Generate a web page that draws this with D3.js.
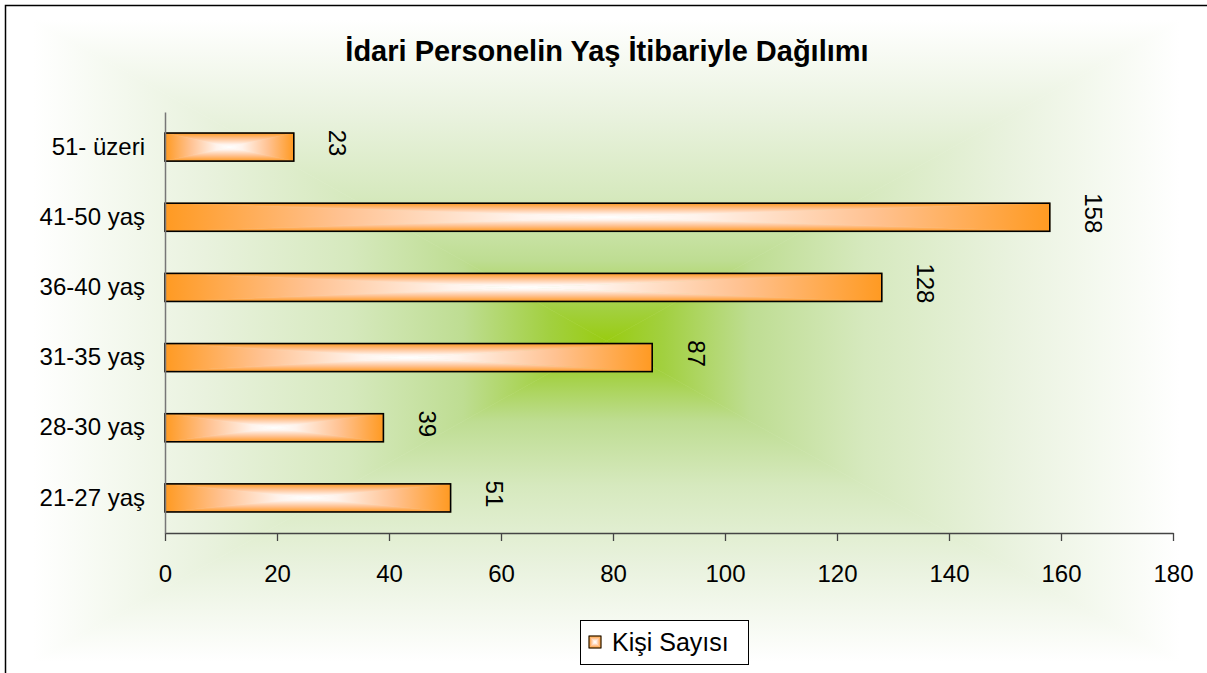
<!DOCTYPE html>
<html>
<head>
<meta charset="utf-8">
<script src="https://cdn.jsdelivr.net/npm/d3@7"></script>
<style>
  body { margin: 0; background: #fff; }
  text { font-family: "Liberation Sans", Arial, sans-serif; }
</style>
</head>
<body>
<div id="chart"></div>
<script>
// data
var categories = ["51- üzeri", "41-50 yaş", "36-40 yaş", "31-35 yaş", "28-30 yaş", "21-27 yaş"];
var values = [23, 158, 128, 87, 39, 51];
var xTicks = [0, 20, 40, 60, 80, 100, 120, 140, 160, 180];
var title = "İdari Personelin Yaş İtibariyle Dağılımı";
var seriesName = "Kişi Sayısı";

var W = 1207, H = 673;
var svg = d3.select("#chart").append("svg")
    .attr("width", W).attr("height", H);
var defs = svg.append("defs");
var gradId = 0;

// Excel-like "from center" rectangular gradient, made of 4 triangles
function fromCenter(g, x0, y0, x1, y1, stops) {
    var cx = (x0 + x1) / 2, cy = (y0 + y1) / 2;
    var parts = [
        {pts: [[x0, y0], [x1, y0], [cx, cy]], to: [cx, y0]},
        {pts: [[x0, y1], [x1, y1], [cx, cy]], to: [cx, y1]},
        {pts: [[x0, y0], [x0, y1], [cx, cy]], to: [x0, cy]},
        {pts: [[x1, y0], [x1, y1], [cx, cy]], to: [x1, cy]}
    ];
    parts.forEach(function(p) {
        var id = "g" + (gradId++);
        var lg = defs.append("linearGradient").attr("id", id)
            .attr("gradientUnits", "userSpaceOnUse")
            .attr("x1", cx).attr("y1", cy).attr("x2", p.to[0]).attr("y2", p.to[1]);
        stops.forEach(function(s) {
            lg.append("stop").attr("offset", s[0]).attr("stop-color", s[1]);
        });
        g.append("polygon")
            .attr("points", p.pts.map(function(d) { return d.join(","); }).join(" "))
            .attr("fill", "url(#" + id + ")")
            .attr("stroke", "url(#" + id + ")")
            .attr("stroke-width", 0.6);
    });
}

var bgStops = [[0, "#99cc11"], [0.1, "#a2d040"], [0.25, "#bedd92"], [0.45, "#d6e9be"], [0.7, "#e9f2de"], [1, "#ffffff"]];
var barStops = [[0, "#ffffff"], [0.2, "#fff3ec"], [0.6, "#ffc292"], [1, "#ff9a22"]];

// background
fromCenter(svg.append("g"), 33, 20, 1180, 662, bgStops);

// chart border
svg.append("rect")
    .attr("x", 5.5).attr("y", 5.5)
    .attr("width", 1210).attr("height", 700)
    .attr("fill", "none").attr("stroke", "#000").attr("stroke-width", 1.5);

var x = d3.scaleLinear().domain([0, 180]).range([165, 1173]);
var y = d3.scaleBand().domain(categories).range([112, 533])
    .paddingInner(0.6).paddingOuter(0.3);

// title
svg.append("text")
    .attr("x", 607).attr("y", 61)
    .attr("text-anchor", "middle")
    .style("font-size", "29px").style("font-weight", "bold")
    .text(title);

// bars
categories.forEach(function(c, i) {
    var g = svg.append("g");
    var x0 = x(0), x1 = x(values[i]), y0 = y(c), y1 = y(c) + y.bandwidth();
    fromCenter(g, x0, y0, x1, y1, barStops);
    g.append("rect")
        .attr("x", x0).attr("y", y0)
        .attr("width", x1 - x0).attr("height", y1 - y0)
        .attr("fill", "none").attr("stroke", "#000").attr("stroke-width", 1.6);
});

// value labels (rotated)
svg.append("g").selectAll("text")
    .data(values)
    .enter().append("text")
    .attr("transform", function(d, i) {
        return "translate(" + (x(d) + 44) + "," + (y(categories[i]) + y.bandwidth() / 2 - 4) + ") rotate(90)";
    })
    .attr("text-anchor", "middle")
    .attr("dy", "0.35em")
    .style("font-size", "24px")
    .text(function(d) { return d; });

// x axis
var xAxis = svg.append("g")
    .attr("transform", "translate(0,533)")
    .call(d3.axisBottom(x).tickValues(xTicks).tickSize(8).tickSizeOuter(0).tickPadding(24));
xAxis.select(".domain").attr("stroke", "#444").attr("stroke-width", 1.3);
xAxis.selectAll(".tick line").attr("stroke", "#444").attr("stroke-width", 1.3);
xAxis.selectAll("text").style("font-size", "24px").attr("fill", "#000")
    .style("font-family", "'Liberation Sans', Arial, sans-serif");

// y axis
var yAxis = svg.append("g")
    .attr("transform", "translate(165,0)")
    .call(d3.axisLeft(y).tickSize(0).tickPadding(20));
yAxis.select(".domain").attr("stroke", "#777").attr("stroke-width", 1.5);
yAxis.selectAll("text").style("font-size", "24px").attr("fill", "#000")
    .style("font-family", "'Liberation Sans', Arial, sans-serif");

// legend
var lg = svg.append("g");
lg.append("rect")
    .attr("x", 580.5).attr("y", 620.5).attr("width", 168).attr("height", 44)
    .attr("fill", "#fff").attr("stroke", "#000").attr("stroke-width", 1);
fromCenter(lg, 589, 636, 601, 648, barStops);
lg.append("rect")
    .attr("x", 589).attr("y", 636).attr("width", 12).attr("height", 12)
    .attr("fill", "none").attr("stroke", "#000").attr("stroke-width", 1);
lg.append("text")
    .attr("x", 612).attr("y", 651)
    .style("font-size", "25px")
    .text(seriesName);
</script>
</body>
</html>
